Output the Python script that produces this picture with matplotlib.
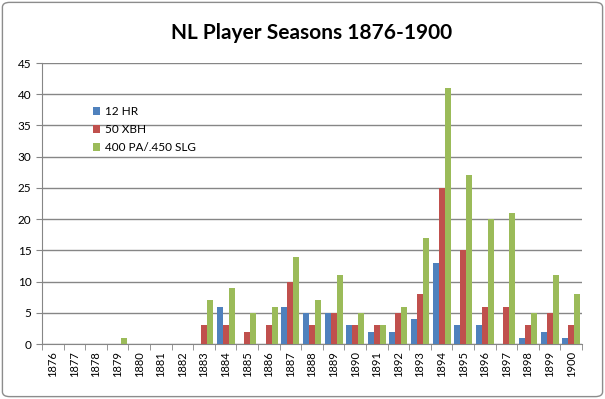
import numpy as np
import matplotlib
matplotlib.use('Agg')
import matplotlib.pyplot as plt
from matplotlib.patches import FancyBboxPatch

plt.rcParams['font.family'] = ['Lato', 'DejaVu Sans']

# data
years = [str(y) for y in range(1876, 1901)]
hr12 = [0, 0, 0, 0, 0, 0, 0, 0, 6, 0, 0, 6, 5, 5, 3, 2, 2, 4, 13, 3, 3, 0, 1, 2, 1]
xbh50 = [0, 0, 0, 0, 0, 0, 0, 3, 3, 2, 3, 10, 3, 5, 3, 3, 5, 8, 25, 15, 6, 6, 3, 5, 3]
slg450 = [0, 0, 0, 1, 0, 0, 0, 7, 9, 5, 6, 14, 7, 11, 5, 3, 6, 17, 41, 27, 20, 21, 5, 11, 8]

fig = plt.figure(figsize=(6.05, 3.99), dpi=100)
# chart border
fig.patches.append(FancyBboxPatch((0.004, 0.006), 0.992, 0.988, boxstyle='round,pad=0,rounding_size=0.012',
                                  transform=fig.transFigure, fill=False, edgecolor='#8c8c8c', linewidth=1.0))

ax = fig.add_axes([0.0694, 0.1378, 0.8926, 0.7042])
x = np.arange(len(years))
w = 0.28
ax.bar(x - w, hr12, w, color='#4F81BD', label='12 HR', zorder=3)
ax.bar(x, xbh50, w, color='#C0504D', label='50 XBH', zorder=3)
ax.bar(x + w, slg450, w, color='#9BBB59', label='400 PA/.450 SLG', zorder=3)

ax.set_xlim(-0.5, len(years) - 0.5)
ax.set_ylim(0, 45)
ax.set_yticks(range(0, 46, 5))
ax.set_xticks(x)
ax.set_xticklabels(years, rotation=90, fontsize=8)
ax.tick_params(axis='y', labelsize=8.5, length=4, color='#868686')
ax.set_xticks(np.arange(-0.5, len(years)), minor=True)
ax.tick_params(axis='x', which='major', length=0, pad=5)
ax.tick_params(axis='x', which='minor', length=4, color='#868686')
ax.grid(axis='y', color='#868686', linewidth=1.0, zorder=0)
for s in ['top', 'right']:
    ax.spines[s].set_visible(False)
ax.spines['left'].set_color('#868686')
ax.spines['bottom'].set_color('#868686')

ax.set_title('NL Player Seasons 1876-1900', fontsize=15, fontweight='bold', pad=17)
ax.legend(loc='upper left', bbox_to_anchor=(0.075, 0.885), frameon=False, fontsize=8.5,
          handlelength=0.6, handleheight=0.6, handletextpad=0.4, labelspacing=0.6)

fig.savefig('out.png', dpi=100)
